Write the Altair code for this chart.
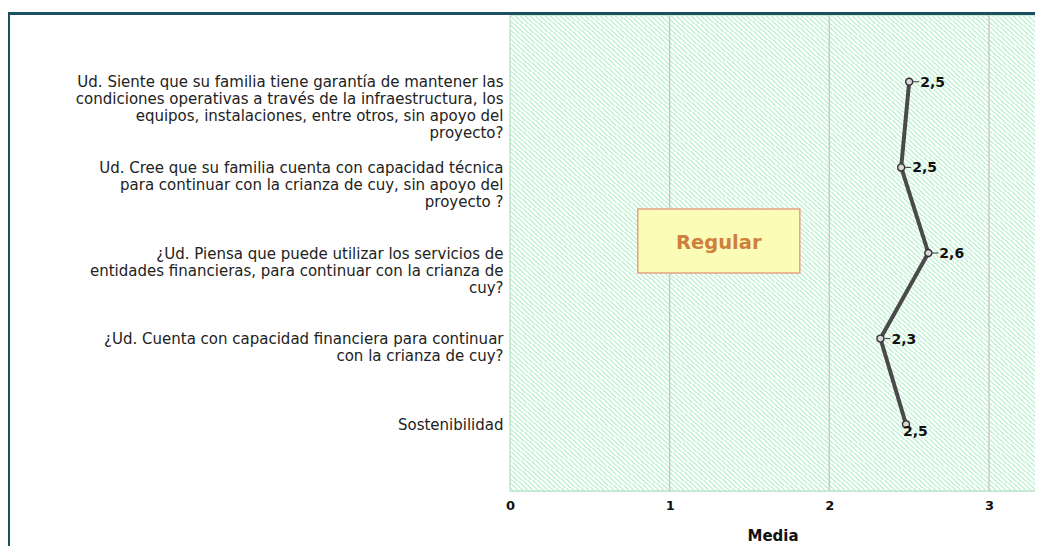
import altair as alt
import pandas as pd

categorias = [
    "Ud. Siente que su familia tiene garantía de mantener las\ncondiciones operativas a través de la infraestructura, los\nequipos, instalaciones, entre otros, sin apoyo del\nproyecto?",
    "Ud. Cree que su familia cuenta con capacidad técnica\npara continuar con la crianza de cuy, sin apoyo del\nproyecto ?",
    "¿Ud. Piensa que puede utilizar los servicios de\nentidades financieras, para continuar con la crianza de\ncuy?",
    "¿Ud. Cuenta con capacidad financiera para continuar\ncon la crianza de cuy?",
    "Sostenibilidad",
]
medias = [2.50, 2.45, 2.62, 2.32, 2.48]
etiquetas = ["2,5", "2,5", "2,6", "2,3", "2,5"]
ticks_x = [0, 1, 2, 3]
caja_texto = "Regular"
caja_x = [0.80, 1.815]

df = pd.DataFrame({"pregunta": categorias, "media": medias, "etiqueta": etiquetas,
                   "orden": list(range(len(categorias)))})
grid_df = pd.DataFrame({"v": ticks_x[1:]})
box_df = pd.DataFrame({"x0": [caja_x[0]], "x1": [caja_x[1]], "t": [caja_texto],
                       "xm": [(caja_x[0] + caja_x[1]) / 2]})

W, H = 525, 476
XMAX = W / 159.67
FONT = "DejaVu Sans"

xscale = alt.Scale(domain=[0, XMAX], nice=False, zero=False)
yscale = alt.Scale(type="point", domain=categorias, padding=0.78)

# hatch background via striped gradient
stops = []
n = 210
for i in range(n):
    a = i / n
    b = (i + 0.4) / n
    c = (i + 1) / n
    stops.append(alt.GradientStop(offset=a, color="#c8f2d7"))
    stops.append(alt.GradientStop(offset=b, color="#c8f2d7"))
    stops.append(alt.GradientStop(offset=b, color="#fbfffc"))
    stops.append(alt.GradientStop(offset=c - 1e-6, color="#fbfffc"))
hatch_grad = alt.LinearGradient(gradient="linear", stops=stops, x1=1, y1=0, x2=0, y2=1)

base_df = pd.DataFrame({"k": [0]})

hatch = alt.Chart(base_df).mark_rect(fill=hatch_grad, stroke="#bfe8cc", strokeWidth=1.5).encode(
    x=alt.value(0), x2=alt.value(W + 3), y=alt.value(0), y2=alt.value(H)
)

frame_top = alt.Chart(base_df).mark_rule(color="#1b4f62", strokeWidth=3).encode(
    x=alt.value(-503), x2=alt.value(W + 5), y=alt.value(-1.5)
)
frame_left = alt.Chart(base_df).mark_rule(color="#1b4f62", strokeWidth=3).encode(
    x=alt.value(-501.5), y=alt.value(-3), y2=alt.value(H + 80)
)

grid = alt.Chart(grid_df).mark_rule(color="#c9c9c9", strokeWidth=1.5).encode(
    x=alt.X("v:Q", scale=xscale)
)

box = alt.Chart(box_df).mark_rect(fill="#fbfcb6", stroke="#e6a084", strokeWidth=1.5).encode(
    x=alt.X("x0:Q", scale=xscale), x2="x1:Q", y=alt.value(194), y2=alt.value(258)
)
box_text = alt.Chart(box_df).mark_text(font=FONT, fontSize=19.5, fontWeight="bold",
                                       color="#cf7f3e", baseline="middle").encode(
    x=alt.X("xm:Q", scale=xscale), y=alt.value(228), text="t:N"
)

x_enc = alt.X("media:Q", scale=xscale,
              axis=alt.Axis(values=ticks_x, title="Media", grid=False, domain=False, ticks=False,
                            labelFont=FONT, labelFontSize=13, labelFontWeight="bold",
                            labelColor="#111", labelPadding=8, labelFlush=False,
                            titleFont=FONT, titleFontSize=15, titleFontWeight="bold",
                            titleColor="#111", titlePadding=16, format="d"))
y_enc = alt.Y("pregunta:N", scale=yscale, sort=categorias,
              axis=alt.Axis(title=None, domain=False, ticks=False, grid=False,
                            labelExpr="split(datum.label, '\\n')",
                            labelFont=FONT, labelFontSize=15, labelLineHeight=17,
                            labelColor="#222", labelPadding=7, labelLimit=600,
                            labelAlign="right", labelBaseline="middle"))

line = alt.Chart(df).mark_line(color="#4a4a4a", strokeWidth=4).encode(
    x=x_enc, y=y_enc, order="orden:Q"
)
points = alt.Chart(df).mark_point(shape="circle", size=50, filled=False, stroke="#333",
                                  strokeWidth=1.4, fill="#d8d8d8", fillOpacity=1).encode(
    x=alt.X("media:Q", scale=xscale), y=alt.Y("pregunta:N", scale=yscale, sort=categorias)
)
leaders = alt.Chart(df).transform_filter("datum.orden < 4").mark_rule(
    color="#333", strokeWidth=1, xOffset=4, x2Offset=10).encode(
    x=alt.X("media:Q", scale=xscale), x2="media:Q",
    y=alt.Y("pregunta:N", scale=yscale, sort=categorias)
)
labels = alt.Chart(df).transform_filter("datum.orden < 4").mark_text(
    font=FONT, fontSize=14, fontWeight="bold", color="#111", align="left",
    baseline="middle", dx=11, dy=1).encode(
    x=alt.X("media:Q", scale=xscale), y=alt.Y("pregunta:N", scale=yscale, sort=categorias),
    text="etiqueta:N"
)
label_last = alt.Chart(df).transform_filter("datum.orden == 4").mark_text(
    font=FONT, fontSize=14, fontWeight="bold", color="#111", align="left",
    baseline="middle", dx=-3, dy=8).encode(
    x=alt.X("media:Q", scale=xscale), y=alt.Y("pregunta:N", scale=yscale, sort=categorias),
    text="etiqueta:N"
)

chart = alt.layer(
    hatch, grid, box, box_text, line, points, leaders, labels, label_last, frame_top, frame_left
).properties(
    width=W, height=H,
    autosize=alt.AutoSizeParams(type="none"),
    padding={"left": 502, "top": 7, "right": 0, "bottom": 55},
).configure_view(stroke=None).configure(background="white")

chart.save("out.html", embed_options={"renderer": "svg", "actions": False})
